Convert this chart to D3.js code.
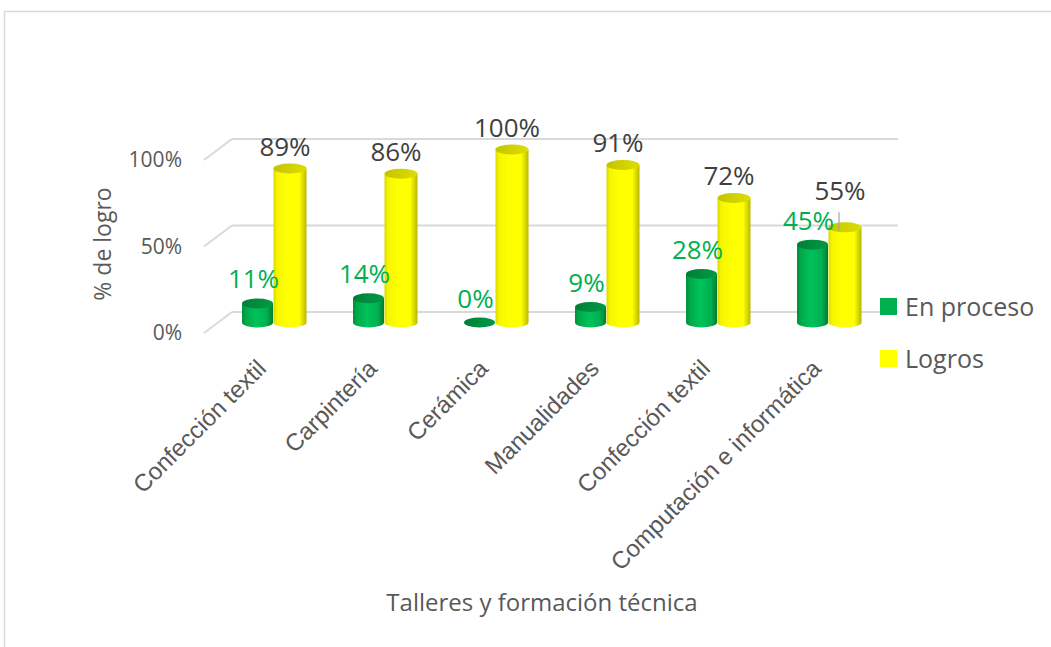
<!DOCTYPE html>
<html>
<head>
<meta charset="utf-8">
<script src="https://cdn.jsdelivr.net/npm/d3@7"></script>
<style>
  body { margin: 0; background: #fff; }
  text { font-family: "Open Sans", sans-serif; }
  text.cat { font-family: "Liberation Sans", Arial, sans-serif; }
</style>
</head>
<body>
<div id="chart"></div>
<script>
var categories = ["Confección textil", "Carpintería", "Cerámica", "Manualidades", "Confección textil", "Computación e informática"]
var enProceso = [0.11, 0.14, 0.00, 0.09, 0.28, 0.45]
var logros = [0.89, 0.86, 1.00, 0.91, 0.72, 0.55]
var yTicks = [0, 0.5, 1]
var seriesNames = ["En proceso", "Logros"]

var width = 1051, height = 647

var svg = d3.select("#chart")
  .append("svg")
  .attr("width", width)
  .attr("height", height)

// outer chart border (only top and left show in the frame)
svg.append("rect")
  .attr("x", 4.5).attr("y", 11.5)
  .attr("width", 1200).attr("height", 800)
  .attr("fill", "none")
  .attr("stroke", "#d9d9d9")
  .attr("stroke-width", 1.5)

// back wall and depth offsets
var wallLeft = 232, wallRight = 898
var depthX = 28, depthY = 21

var x = d3.scaleBand()
  .domain(d3.range(categories.length))
  .range([wallLeft, wallRight])

var yBack = d3.scaleLinear().domain([0, 1]).range([312, 139])
var yBar = d3.scaleLinear().domain([0, 1]).range([312 + depthY / 2, 139 + depthY / 2])

var fmt = d3.format(".0%")

// gridlines: back wall line plus diagonal to the front
var grid = svg.append("g")
grid.selectAll("line.h")
  .data(yTicks)
  .enter()
  .append("line")
  .attr("x1", wallLeft).attr("x2", wallRight)
  .attr("y1", function (d) { return yBack(d) })
  .attr("y2", function (d) { return yBack(d) })
  .attr("stroke", "#d9d9d9").attr("stroke-width", 2)
grid.selectAll("line.d")
  .data(yTicks)
  .enter()
  .append("line")
  .attr("x1", wallLeft).attr("x2", wallLeft - depthX)
  .attr("y1", function (d) { return yBack(d) })
  .attr("y2", function (d) { return yBack(d) + depthY })
  .attr("stroke", "#d9d9d9").attr("stroke-width", 2)

// y tick labels
svg.selectAll("text.ytick")
  .data(yTicks)
  .enter()
  .append("text")
  .attr("x", 182)
  .attr("y", function (d) { return yBack(d) + depthY + 7 })
  .attr("text-anchor", "end")
  .attr("font-size", 21)
  .attr("fill", "#595959")
  .text(function (d) { return fmt(d) })

svg.append("text")
  .attr("transform", "translate(111,244) rotate(-90)")
  .attr("text-anchor", "middle")
  .attr("font-size", 23)
  .attr("fill", "#595959")
  .text("% de logro")

// gradients
var defs = svg.append("defs")
function grad(id, stops) {
  var g = defs.append("linearGradient").attr("id", id)
    .attr("x1", "0%").attr("x2", "100%").attr("y1", "0%").attr("y2", "0%")
  stops.forEach(function (s) {
    g.append("stop").attr("offset", s[0]).attr("stop-color", s[1])
  })
}
grad("gBody", [["0%", "#008f3e"], ["12%", "#00a849"], ["45%", "#00c25a"], ["80%", "#00b050"], ["100%", "#007a34"]])
grad("gTop", [["0%", "#007f37"], ["100%", "#009a45"]])
grad("yBody", [["0%", "#d8d800"], ["10%", "#f5f500"], ["40%", "#ffff00"], ["78%", "#ffff00"], ["100%", "#b8b800"]])
grad("yTop", [["0%", "#c4c400"], ["100%", "#dede00"]])

var barW = x.bandwidth()
var ry = 5

function cylinder(g, cx, rx, v, body, top) {
  var yb = yBar(0), yt = yBar(v)
  if (v > 0) {
    g.append("path")
      .attr("d", "M" + (cx - rx) + "," + yt + " L" + (cx - rx) + "," + yb +
        " A" + rx + "," + ry + " 0 0 0 " + (cx + rx) + "," + yb +
        " L" + (cx + rx) + "," + yt + " Z")
      .attr("fill", "url(#" + body + ")")
  }
  g.append("ellipse")
    .attr("cx", cx).attr("cy", yt)
    .attr("rx", rx).attr("ry", ry)
    .attr("fill", "url(#" + top + ")")
}

var bars = svg.append("g")
categories.forEach(function (c, i) {
  var center = x(i) + barW / 2 - depthX / 2
  var gx = center - 16, lx = center + 16.5
  var g = bars.append("g")
  cylinder(g, gx, 15.5, enProceso[i], "gBody", "gTop")
  cylinder(g, lx, 16.5, logros[i], "yBody", "yTop")

  g.append("text")
    .attr("x", gx - 4)
    .attr("y", yBar(enProceso[i]) - 15)
    .attr("text-anchor", "middle")
    .attr("font-size", 26)
    .attr("fill", "#00b050")
    .text(fmt(enProceso[i]))

  // lift the yellow label when it would hit the green one
  var lift = Math.abs(yBar(logros[i]) - yBar(enProceso[i])) < 30 ? 27 : 13
  var ly = yBar(logros[i]) - lift
  g.append("text")
    .attr("x", lx - 5)
    .attr("y", ly)
    .attr("text-anchor", "middle")
    .attr("font-size", 26)
    .attr("fill", "#404040")
    .text(fmt(logros[i]))
  if (lift > 13) {
    g.append("line")
      .attr("x1", lx - 6).attr("x2", lx - 6)
      .attr("y1", ly + 12).attr("y2", yBar(logros[i]) + 3)
      .attr("stroke", "#a6a6a6").attr("stroke-width", 1.2)
  }

  // category label
  svg.append("text")
    .attr("class", "cat")
    .attr("transform", "translate(" + (center - 6) + ",370) rotate(-45)")
    .attr("text-anchor", "end")
    .attr("font-size", 24)
    .attr("fill", "#595959")
    .text(c)
})

svg.append("text")
  .attr("x", 542).attr("y", 611)
  .attr("text-anchor", "middle")
  .attr("font-size", 24)
  .attr("fill", "#595959")
  .text("Talleres y formación técnica")

// legend
var legend = svg.append("g")
var legendColors = ["#00b050", "#ffff00"]
seriesNames.forEach(function (s, i) {
  legend.append("rect")
    .attr("x", 880).attr("y", 298 + i * 52)
    .attr("width", 17).attr("height", 17)
    .attr("fill", legendColors[i])
  legend.append("text")
    .attr("x", 905).attr("y", 316 + i * 52)
    .attr("font-size", 25)
    .attr("fill", "#595959")
    .text(s)
})
</script>
</body>
</html>
